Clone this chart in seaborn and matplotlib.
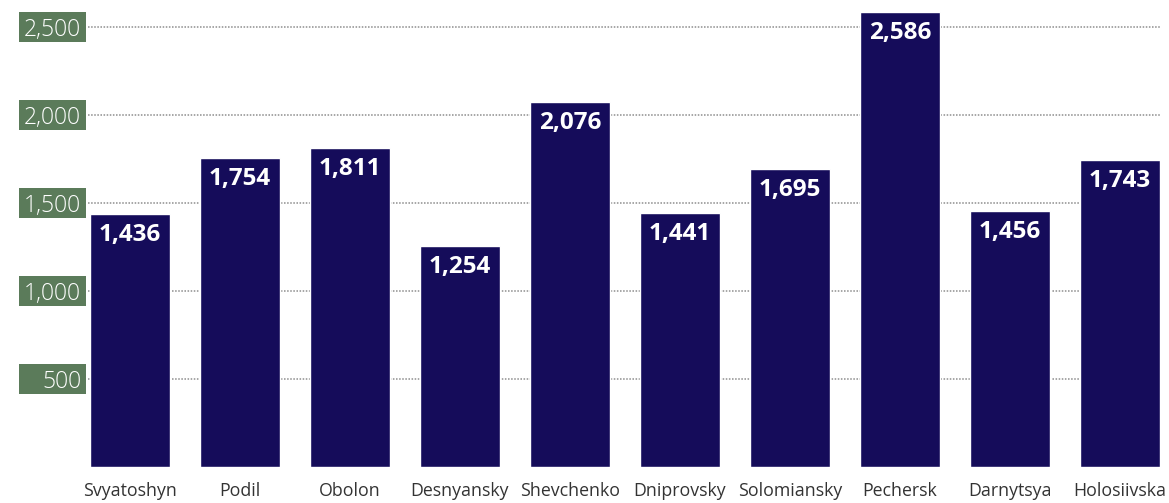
import matplotlib
matplotlib.use("Agg")
import matplotlib.pyplot as plt
import matplotlib.transforms as mtransforms
from matplotlib.patches import Rectangle
import seaborn as sns
import pandas as pd

districts = ["Svyatoshyn", "Podil", "Obolon", "Desnyansky", "Shevchenko",
             "Dniprovsky", "Solomiansky", "Pechersk", "Darnytsya", "Holosiivska"]
values = [1436, 1754, 1811, 1254, 2076, 1441, 1695, 2586, 1456, 1743]
y_ticks = [500, 1000, 1500, 2000, 2500]
y_tick_labels = ["500", "1,000", "1,500", "2,000", "2,500"]

BAR = "#150c5a"
TAG = "#5b7b5a"

sns.set_theme(style="white")
plt.rcParams["font.family"] = ["Open Sans", "DejaVu Sans"]

df = pd.DataFrame({"district": districts, "value": values})

fig = plt.figure(figsize=(11.69, 5.03), dpi=100)
W, H = 1169, 503
ax = fig.add_axes([88 / W, 36 / H, (1160 - 88) / W, 467 / H])

sns.barplot(data=df, x="district", y="value", color=BAR, saturation=1,
            width=0.727, ax=ax, zorder=3)

ax.set_xlim(-0.382, 9.364)
ax.set_ylim(0, 2653)

# dotted horizontal guides
for t in y_ticks:
    ax.axhline(t, color="#a6a6a6", lw=1.4, ls=(0, (0.8, 0.8)), zorder=1)

ax.set_yticks(y_ticks)
ax.set_yticklabels(y_tick_labels, color="white", fontsize=16.5,
                   fontweight="light")
ax.tick_params(axis="y", length=0, pad=5)
ax.tick_params(axis="x", length=0, pad=11)
for lbl in ax.get_xticklabels():
    lbl.set_fontsize(12.8)
    lbl.set_color("#333333")

# green tags behind the y tick labels
trans = mtransforms.blended_transform_factory(ax.transAxes, ax.transData)
tag_h = 30 / 467 * 2653
for t in y_ticks:
    ax.add_patch(Rectangle((-69 / 1072, t - tag_h / 2), 67 / 1072, tag_h,
                           transform=trans, facecolor=TAG, edgecolor="none",
                           clip_on=False, zorder=0))

# value labels inside the bars
offset = 21 / 467 * 2653
for i, v in enumerate(values):
    ax.text(i, v - offset, f"{v:,}", ha="center", va="center",
            color="white", fontsize=17.5, fontweight="bold", zorder=4)

ax.set_xlabel("")
ax.set_ylabel("")
for s in ax.spines.values():
    s.set_visible(False)
ax.grid(False)

fig.savefig("out.png", dpi=100)
